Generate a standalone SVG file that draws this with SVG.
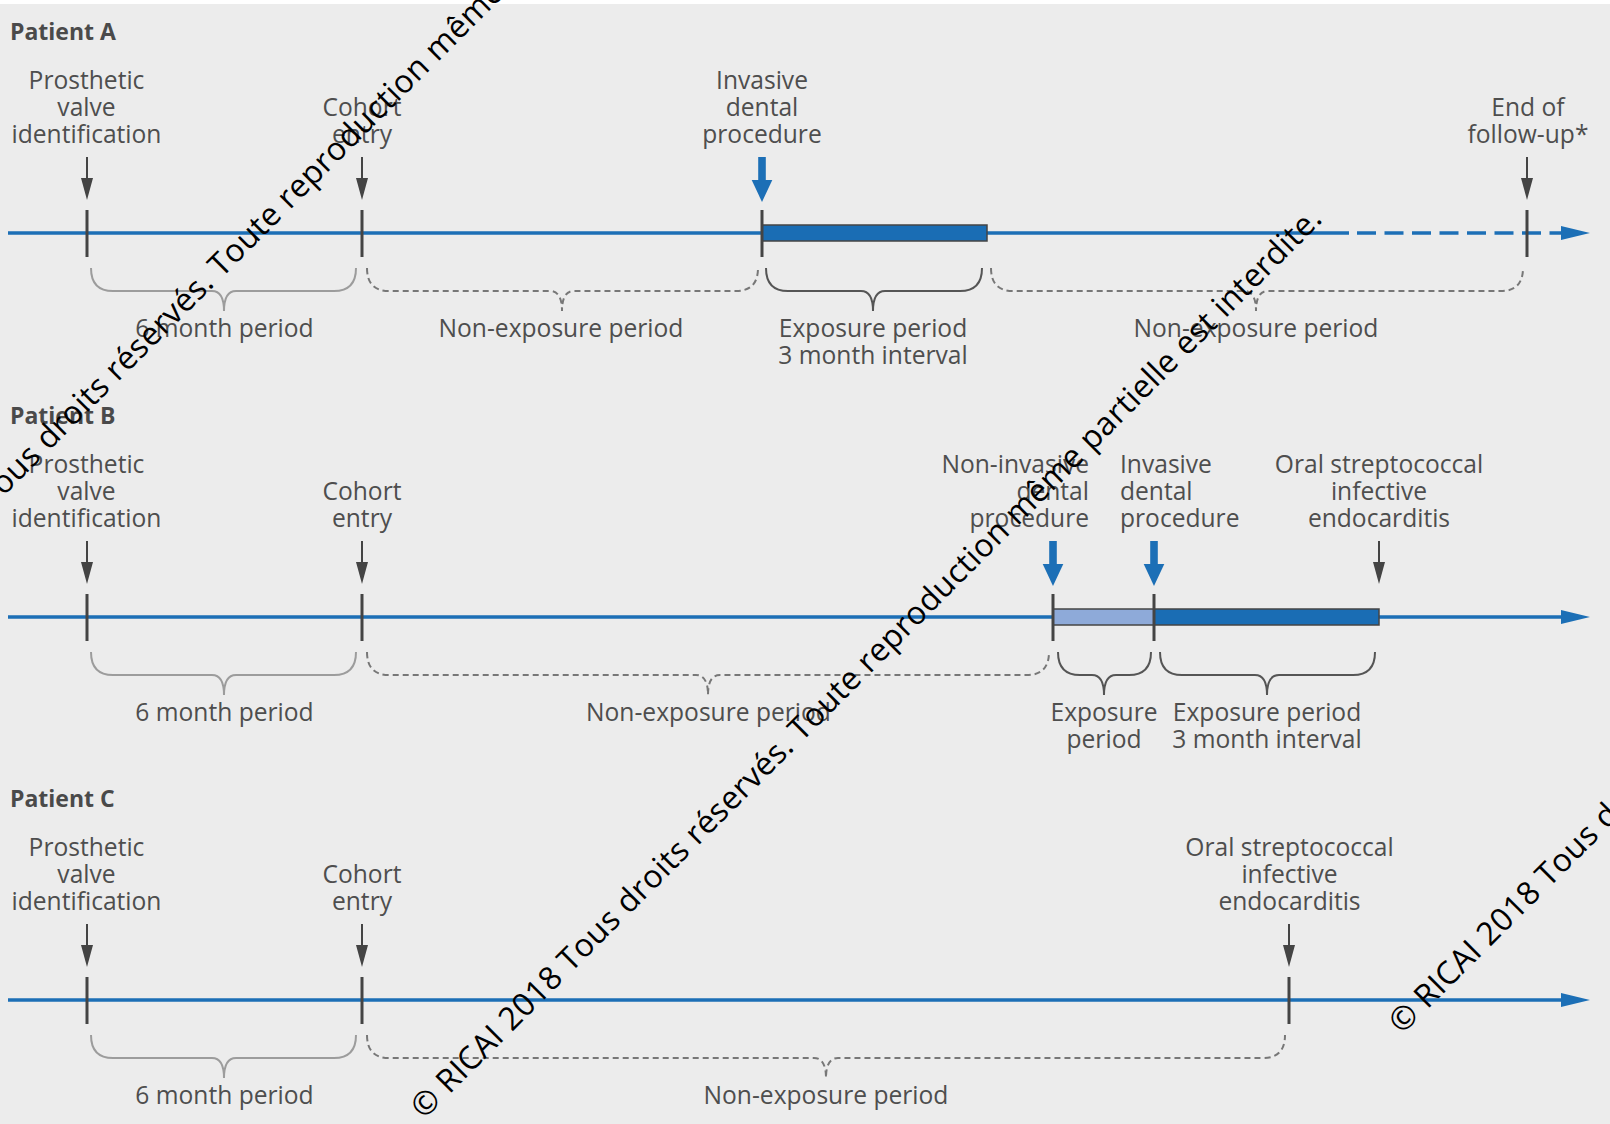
<svg xmlns="http://www.w3.org/2000/svg" width="1610" height="1124" viewBox="0 0 1610 1124">
<defs>
<style>
.bg{fill:#ececec}
.lbl{font-family:"Open Sans","Liberation Sans",sans-serif;font-size:24.6px;fill:#4e4e4e;text-anchor:middle}
.lft{text-anchor:start}
.rgt{text-anchor:end}
.pt{font-family:"Open Sans","Liberation Sans",sans-serif;font-size:23px;font-weight:700;fill:#4a4a4a}
.tl{stroke:#1c6fb6;stroke-width:3.5;fill:none}
.tld{stroke:#1c6fb6;stroke-width:3.5;fill:none;stroke-dasharray:19 8.5}
.head{fill:#1c6fb6}
.tick{stroke:#444;stroke-width:3}
.gshaft{stroke:#444;stroke-width:2}
.ghead{fill:#444}
.bshaft{fill:#1c6fb6}
.bar{fill:#1a6db4;stroke:#444;stroke-width:1.5}
.barl{fill:#8eaad9;stroke:#444;stroke-width:1.5}
.bs{stroke:#9c9c9c;stroke-width:2;fill:none}
.bd{stroke:#555;stroke-width:2;fill:none}
.bn{stroke:#777;stroke-width:2;fill:none;stroke-dasharray:6 4}
.wm{font-family:"Open Sans","Liberation Sans",sans-serif;font-size:32px;fill:#000}
</style>
</defs>
<rect class="bg" x="0" y="0" width="1610" height="1124"/>
<rect x="0" y="0" width="1610" height="4" fill="#ffffff"/>

<!-- Connectors: timelines, arrows, braces -->
<g id="connectors">
  <!-- Patient A -->
  <line class="tl" x1="8" y1="233" x2="1349" y2="233"/>
  <line class="tld" x1="1357" y1="233" x2="1562" y2="233"/>
  <polygon class="head" points="1561,226 1590,233 1561,240"/>
  <rect class="bar" x="762" y="225" width="225" height="16"/>
  <!-- Patient B -->
  <line class="tl" x1="8" y1="617" x2="1565" y2="617"/>
  <polygon class="head" points="1561,610 1590,617 1561,624"/>
  <rect class="barl" x="1053" y="609" width="101" height="16"/>
  <rect class="bar" x="1154" y="609" width="225" height="16"/>
  <!-- Patient C -->
  <line class="tl" x1="8" y1="1000" x2="1565" y2="1000"/>
  <polygon class="head" points="1561,993 1590,1000 1561,1007"/>

  <!-- Braces A -->
  <path class="bs" d="M91,268 Q91,291 113,291 H212 Q224,291 224,311 Q224,291 236,291 H334 Q356,291 356,268"/>
  <path class="bn" d="M367,268 Q367,291 389,291 H550 Q562,291 562,311 Q562,291 574,291 H736 Q758,291 758,268"/>
  <path class="bd" d="M766,268 Q766,291 788,291 H861 Q873,291 873,311 Q873,291 885,291 H960 Q982,291 982,268"/>
  <path class="bn" d="M991,268 Q991,291 1013,291 H1244 Q1256,291 1256,311 Q1256,291 1268,291 H1501 Q1523,291 1523,268"/>
  <!-- Braces B -->
  <path class="bs" d="M91,652 Q91,675 113,675 H212 Q224,675 224,695 Q224,675 236,675 H334 Q356,675 356,652"/>
  <path class="bn" d="M367,652 Q367,675 389,675 H696 Q708,675 708,695 Q708,675 720,675 H1027 Q1049,675 1049,652"/>
  <path class="bd" d="M1058,652 Q1058,675 1080,675 H1092 Q1104,675 1104,695 Q1104,675 1116,675 H1129 Q1151,675 1151,652"/>
  <path class="bd" d="M1160,652 Q1160,675 1182,675 H1255 Q1267,675 1267,695 Q1267,675 1279,675 H1353 Q1375,675 1375,652"/>
  <!-- Braces C -->
  <path class="bs" d="M91,1035 Q91,1058 113,1058 H212 Q224,1058 224,1078 Q224,1058 236,1058 H334 Q356,1058 356,1035"/>
  <path class="bn" d="M367,1035 Q367,1058 389,1058 H814 Q826,1058 826,1078 Q826,1058 838,1058 H1263 Q1285,1058 1285,1035"/>
</g>

<!-- Patient A -->
<g id="patientA">
  <text class="pt" x="10" y="40">Patient A</text>
  <g id="A-prosthetic">
    <text class="lbl" x="86.5" y="89">Prosthetic</text>
    <text class="lbl" x="86.5" y="116">valve</text>
    <text class="lbl" x="86.5" y="143">identification</text>
    <line class="gshaft" x1="87" y1="157" x2="87" y2="182"/>
    <polygon class="ghead" points="81,178 93,178 87,200"/>
    <line class="tick" x1="87" y1="210" x2="87" y2="257"/>
  </g>
  <g id="A-cohort">
    <text class="lbl" x="362" y="116">Cohort</text>
    <text class="lbl" x="362" y="143">entry</text>
    <line class="gshaft" x1="362" y1="157" x2="362" y2="182"/>
    <polygon class="ghead" points="356,178 368,178 362,200"/>
    <line class="tick" x1="362" y1="210" x2="362" y2="257"/>
  </g>
  <g id="A-invasive">
    <text class="lbl" x="762" y="89">Invasive</text>
    <text class="lbl" x="762" y="116">dental</text>
    <text class="lbl" x="762" y="143">procedure</text>
    <rect class="bshaft" x="758.2" y="157" width="7.6" height="25"/>
    <polygon class="bshaft" points="751.7,180 772.3,180 762,202"/>
    <line class="tick" x1="762" y1="210" x2="762" y2="257"/>
  </g>
  <g id="A-end">
    <text class="lbl" x="1528" y="116">End of</text>
    <text class="lbl" x="1528" y="143">follow-up*</text>
    <line class="gshaft" x1="1527" y1="157" x2="1527" y2="182"/>
    <polygon class="ghead" points="1521,178 1533,178 1527,200"/>
    <line class="tick" x1="1527" y1="210" x2="1527" y2="257"/>
  </g>
  <text class="lbl" x="224.5" y="337">6 month period</text>
  <text class="lbl" x="561" y="337">Non-exposure period</text>
  <text class="lbl" x="873" y="337">Exposure period</text>
  <text class="lbl" x="873" y="364">3 month interval</text>
  <text class="lbl" x="1256" y="337">Non-exposure period</text>
</g>

<!-- Patient B -->
<g id="patientB">
  <text class="pt" x="10" y="424">Patient B</text>
  <g id="B-prosthetic">
    <text class="lbl" x="86.5" y="473">Prosthetic</text>
    <text class="lbl" x="86.5" y="500">valve</text>
    <text class="lbl" x="86.5" y="527">identification</text>
    <line class="gshaft" x1="87" y1="541" x2="87" y2="566"/>
    <polygon class="ghead" points="81,562 93,562 87,584"/>
    <line class="tick" x1="87" y1="594" x2="87" y2="641"/>
  </g>
  <g id="B-cohort">
    <text class="lbl" x="362" y="500">Cohort</text>
    <text class="lbl" x="362" y="527">entry</text>
    <line class="gshaft" x1="362" y1="541" x2="362" y2="566"/>
    <polygon class="ghead" points="356,562 368,562 362,584"/>
    <line class="tick" x1="362" y1="594" x2="362" y2="641"/>
  </g>
  <g id="B-noninvasive">
    <text class="lbl rgt" x="1089" y="473">Non-invasive</text>
    <text class="lbl rgt" x="1089" y="500">dental</text>
    <text class="lbl rgt" x="1089" y="527">procedure</text>
    <rect class="bshaft" x="1049.2" y="541" width="7.6" height="25"/>
    <polygon class="bshaft" points="1042.7,564 1063.3,564 1053,586"/>
    <line class="tick" x1="1053" y1="594" x2="1053" y2="641"/>
  </g>
  <g id="B-invasive">
    <text class="lbl lft" x="1120" y="473">Invasive</text>
    <text class="lbl lft" x="1120" y="500">dental</text>
    <text class="lbl lft" x="1120" y="527">procedure</text>
    <rect class="bshaft" x="1150.2" y="541" width="7.6" height="25"/>
    <polygon class="bshaft" points="1143.7,564 1164.3,564 1154,586"/>
    <line class="tick" x1="1154" y1="594" x2="1154" y2="641"/>
  </g>
  <g id="B-endocarditis">
    <text class="lbl" x="1379" y="473">Oral streptococcal</text>
    <text class="lbl" x="1379" y="500">infective</text>
    <text class="lbl" x="1379" y="527">endocarditis</text>
    <line class="gshaft" x1="1379" y1="541" x2="1379" y2="566"/>
    <polygon class="ghead" points="1373,562 1385,562 1379,584"/>
  </g>
  <text class="lbl" x="224.5" y="721">6 month period</text>
  <text class="lbl" x="708.5" y="721">Non-exposure period</text>
  <text class="lbl" x="1104" y="721">Exposure</text>
  <text class="lbl" x="1104" y="748">period</text>
  <text class="lbl" x="1267" y="721">Exposure period</text>
  <text class="lbl" x="1267" y="748">3 month interval</text>
</g>

<!-- Patient C -->
<g id="patientC">
  <text class="pt" x="10" y="807">Patient C</text>
  <g id="C-prosthetic">
    <text class="lbl" x="86.5" y="856">Prosthetic</text>
    <text class="lbl" x="86.5" y="883">valve</text>
    <text class="lbl" x="86.5" y="910">identification</text>
    <line class="gshaft" x1="87" y1="924" x2="87" y2="949"/>
    <polygon class="ghead" points="81,945 93,945 87,967"/>
    <line class="tick" x1="87" y1="977" x2="87" y2="1024"/>
  </g>
  <g id="C-cohort">
    <text class="lbl" x="362" y="883">Cohort</text>
    <text class="lbl" x="362" y="910">entry</text>
    <line class="gshaft" x1="362" y1="924" x2="362" y2="949"/>
    <polygon class="ghead" points="356,945 368,945 362,967"/>
    <line class="tick" x1="362" y1="977" x2="362" y2="1024"/>
  </g>
  <g id="C-endocarditis">
    <text class="lbl" x="1289.5" y="856">Oral streptococcal</text>
    <text class="lbl" x="1289.5" y="883">infective</text>
    <text class="lbl" x="1289.5" y="910">endocarditis</text>
    <line class="gshaft" x1="1289" y1="924" x2="1289" y2="949"/>
    <polygon class="ghead" points="1283,945 1295,945 1289,967"/>
    <line class="tick" x1="1289" y1="977" x2="1289" y2="1024"/>
  </g>
  <text class="lbl" x="224.5" y="1104">6 month period</text>
  <text class="lbl" x="826" y="1104">Non-exposure period</text>
</g>

<!-- Watermarks -->
<g id="watermark">
  <text class="wm" transform="translate(424,1120) rotate(-45)" textLength="1272">© RICAI 2018 Tous droits réservés. Toute reproduction même partielle est interdite.</text>
  <text class="wm" transform="translate(-156,656) rotate(-45)" textLength="1272">© RICAI 2018 Tous droits réservés. Toute reproduction même partielle est interdite.</text>
  <text class="wm" transform="translate(1402,1035) rotate(-45)" textLength="1272">© RICAI 2018 Tous droits réservés. Toute reproduction même partielle est interdite.</text>
</g>
</svg>
